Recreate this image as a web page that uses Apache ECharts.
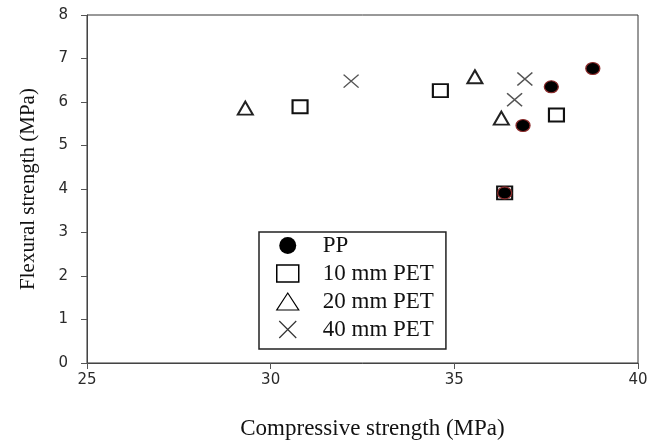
<!DOCTYPE html>
<html>
<head>
<meta charset="utf-8">
<script src="https://cdn.jsdelivr.net/npm/echarts@6/dist/echarts.min.js"></script>
<style>
html,body{margin:0;padding:0;background:#fff;}
#chart{width:653px;height:445px;}
</style>
</head>
<body>
<div id="chart"></div>
<script>
// Data
var xTicks = [25, 30, 35, 40];
var yTicks = [0, 1, 2, 3, 4, 5, 6, 7, 8];
var seriesNames = ['PP', '10 mm PET', '20 mm PET', '40 mm PET'];
var ppX = [38.77, 37.64, 36.87, 36.37];
var ppY = [6.77, 6.35, 5.46, 3.91];
var pet10X = [30.80, 34.62, 37.78, 36.37];
var pet10Y = [5.89, 6.26, 5.70, 3.91];
var pet20X = [29.31, 35.56, 36.28];
var pet20Y = [5.86, 6.58, 5.63];
var pet40X = [32.19, 36.92, 36.64];
var pet40Y = [6.48, 6.53, 6.05];

function pairs(xs, ys) { return xs.map(function (x, i) { return [x, ys[i]]; }); }

var crossPath = 'path://M0,0L10,10M10,0L0,10';
var serif = '"Liberation Serif", "DejaVu Serif", serif';
var sans = '"DejaVu Sans", Verdana, sans-serif';

var chart = echarts.init(document.getElementById('chart'), null, {renderer: 'canvas'});
chart.setOption({
  animation: false,
  backgroundColor: '#fff',
  grid: {left: 87, right: 15, top: 15, bottom: 78, show: true, borderColor: '#333', borderWidth: 1, backgroundColor: '#fff'},
  xAxis: {
    type: 'value', min: xTicks[0], max: xTicks[xTicks.length - 1], interval: 5,
    name: 'Compressive strength (MPa)', nameLocation: 'middle', nameGap: 54,
    nameTextStyle: {fontFamily: serif, fontSize: 23, color: '#111', padding: [0, 0, 0, 20]},
    axisLine: {show: true, lineStyle: {color: '#444', width: 1}},
    axisTick: {show: true, inside: false, length: 6, lineStyle: {color: '#555'}},
    axisLabel: {fontFamily: sans, fontSize: 15, color: '#2a2a2a', margin: 10},
    splitLine: {show: false}
  },
  yAxis: {
    type: 'value', min: yTicks[0], max: yTicks[yTicks.length - 1], interval: 1,
    name: 'Flexural strength (MPa)', nameLocation: 'middle', nameGap: 48, nameRotate: 90,
    nameTextStyle: {fontFamily: serif, fontSize: 21, color: '#111'},
    axisLine: {show: true, lineStyle: {color: '#444', width: 1}},
    axisTick: {show: true, inside: false, length: 6, lineStyle: {color: '#555'}},
    axisLabel: {fontFamily: sans, fontSize: 15, color: '#2a2a2a', margin: 19},
    splitLine: {show: false}
  },
  legend: {
    orient: 'vertical', left: 259, top: 232,
    backgroundColor: '#fff', borderColor: '#222', borderWidth: 1.5,
    padding: [2, 12, 8, 17],
    itemWidth: 22, itemHeight: 17, itemGap: 5,
    textStyle: {fontFamily: serif, fontSize: 23, color: '#111', lineHeight: 23, padding: [0, 0, 0, 19]},
    data: [
      {name: seriesNames[0], icon: 'circle', itemStyle: {color: '#000', borderColor: '#000', borderWidth: 0}},
      {name: seriesNames[1], icon: 'rect', itemStyle: {color: '#fff', borderColor: '#000', borderWidth: 1.5}},
      {name: seriesNames[2], icon: 'triangle', itemStyle: {color: '#fff', borderColor: '#000', borderWidth: 1.2}},
      {name: seriesNames[3], icon: crossPath, itemStyle: {color: 'rgba(0,0,0,0)', borderColor: '#333', borderWidth: 1.2}}
    ]
  },
  series: [
    {
      name: seriesNames[1], type: 'scatter', symbol: 'rect', symbolSize: [15, 13], z: 2,
      itemStyle: {color: '#fff', borderColor: '#111', borderWidth: 2, opacity: 1},
      data: pairs(pet10X, pet10Y)
    },
    {
      name: seriesNames[2], type: 'scatter', symbol: 'triangle', symbolSize: [15, 13], z: 2,
      itemStyle: {color: '#fff', borderColor: '#222', borderWidth: 2, opacity: 1},
      data: pairs(pet20X, pet20Y)
    },
    {
      name: seriesNames[3], type: 'scatter', symbol: crossPath, symbolSize: [15, 13], z: 2,
      itemStyle: {color: 'rgba(0,0,0,0)', borderColor: '#555', borderWidth: 1.5, opacity: 1},
      data: pairs(pet40X, pet40Y)
    },
    {
      name: seriesNames[0], type: 'scatter', symbol: 'circle', symbolSize: [14, 12], z: 3,
      itemStyle: {color: '#000', borderColor: '#8a2a2a', borderWidth: 1.2, opacity: 1},
      data: pairs(ppX, ppY)
    }
  ]
});
</script>
</body>
</html>
